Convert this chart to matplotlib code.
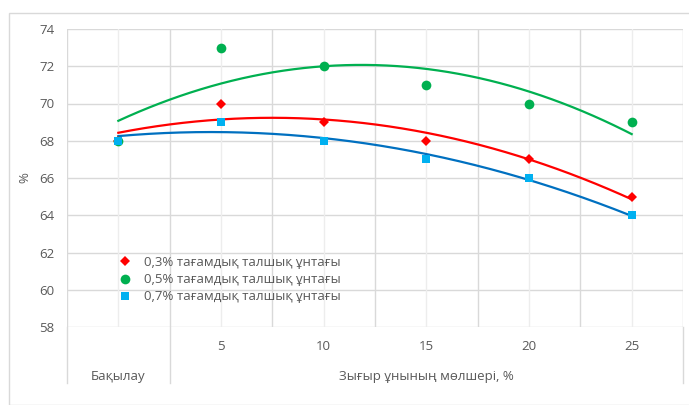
import numpy as np
import matplotlib
matplotlib.use("Agg")
import matplotlib.pyplot as plt
from matplotlib.patches import Rectangle
from matplotlib.transforms import blended_transform_factory

plt.rcParams['font.family'] = ['Open Sans', 'DejaVu Sans']

# ---- data ----
categories = ['Бақылау', '5', '10', '15', '20', '25']
level1_labels = ['', '5', '10', '15', '20', '25']
group_labels = ['Бақылау', 'Зығыр ұнының мөлшері, %']
series_names = ['0,3% тағамдық талшық ұнтағы',
                '0,5% тағамдық талшық ұнтағы',
                '0,7% тағамдық талшық ұнтағы']
s03 = [68, 70, 69, 68, 67, 65]
s05 = [68, 73, 72, 71, 70, 69]
s07 = [68, 69, 68, 67, 66, 64]
yticks = [58, 60, 62, 64, 66, 68, 70, 72, 74]

W, H = 689, 405
fig = plt.figure(figsize=(W / 100, H / 100), dpi=100)
fig.patch.set_facecolor('white')

# outer chart border
fig.patches.append(Rectangle((8.5 / W, 0), 1.2, 1 - 12.5 / H, transform=fig.transFigure,
                             fill=False, edgecolor='#D9D9D9', linewidth=1.0))

L, R, T, B = 67, 683, 29, 327
ax = fig.add_axes([L / W, 1 - B / H, (R - L) / W, (B - T) / H])
ax.set_xlim(-0.5, len(categories) - 0.5)
ax.set_ylim(58, 74)

txtc = '#595959'
gridc = '#D9D9D9'
minorc = '#EDEDED'

x = np.arange(len(categories))
# grid
for yv in yticks:
    ax.axhline(yv, color=gridc, linewidth=1.0, zorder=0)
for k in range(len(categories)):
    ax.axvline(k, color=minorc, linewidth=1.0, zorder=0)
for k in range(len(categories) + 1):
    ax.axvline(k - 0.5, color=gridc, linewidth=1.0, zorder=0)

for sp in ax.spines.values():
    sp.set_visible(False)

styles = [
    dict(data=s03, mc='#FF0000', lc='#FF0000', marker='D', ms=5.2),
    dict(data=s05, mc='#00B050', lc='#00B050', marker='o', ms=7),
    dict(data=s07, mc='#00B0F0', lc='#0070C0', marker='s', ms=6.2),
]
xs = np.linspace(0, len(categories) - 1, 200)
for st in styles:
    coef = np.polyfit(x, st['data'], 2)
    ax.plot(xs, np.polyval(coef, xs), color=st['lc'], linewidth=1.6, zorder=2)
handles = []
for st, name in zip(styles, series_names):
    h, = ax.plot(x, st['data'], linestyle='none', marker=st['marker'], markersize=st['ms'],
                 color=st['mc'], markeredgewidth=0, zorder=3, label=name)
    handles.append(h)

ax.set_yticks(yticks)
ax.set_yticklabels([str(v) for v in yticks], fontsize=9.5, color=txtc)
ax.tick_params(axis='y', length=0, pad=9)
ax.set_xticks(x)
ax.set_xticklabels(level1_labels, fontsize=9.5, color=txtc)
ax.tick_params(axis='x', length=0, pad=9)
ax.set_ylabel('%', fontsize=9.5, color=txtc, labelpad=6)

# second-level category labels and separators
tr = blended_transform_factory(ax.transData, ax.transAxes)
ybot = -(383 - B) / (B - T)
for xv in [-0.5, 0.5, len(categories) - 0.5]:
    ax.plot([xv, xv], [0, ybot], color=gridc, linewidth=1.0, transform=tr, clip_on=False)
ylab2 = -(376 - B) / (B - T)
ax.text(0, ylab2, group_labels[0], transform=tr, ha='center', va='center',
        fontsize=9.5, color=txtc)
ax.text((1 + len(categories) - 1) / 2, ylab2, group_labels[1], transform=tr,
        ha='center', va='center', fontsize=9.5, color=txtc)

leg = ax.legend(handles=handles, loc='upper left',
                bbox_to_anchor=((118 - L) / (R - L), (B - 256) / (B - T)),
                frameon=False, fontsize=9.5, handlelength=1.0, handletextpad=1.0,
                labelspacing=0.32, borderpad=0, borderaxespad=0)
for t in leg.get_texts():
    t.set_color(txtc)

fig.savefig('out.png', dpi=100)
